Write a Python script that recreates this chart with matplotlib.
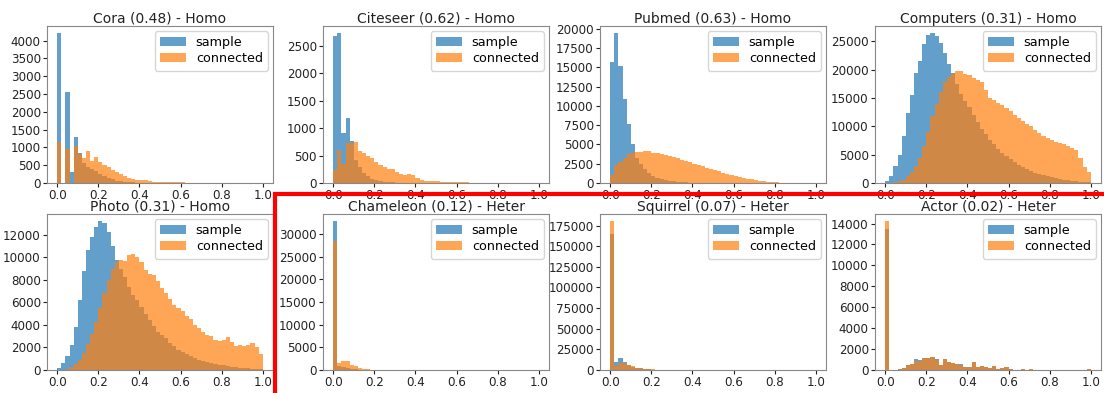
import numpy as np
import matplotlib
matplotlib.use("Agg")
import matplotlib.pyplot as plt
from matplotlib.patches import Rectangle
from matplotlib.ticker import MultipleLocator

# 50 bins on [0, 1]
edges = np.linspace(0, 1, 51)

titles = ["Cora (0.48) - Homo", "Citeseer (0.62) - Homo", "Pubmed (0.63) - Homo",
          "Computers (0.31) - Homo", "Photo (0.31) - Homo", "Chameleon (0.12) - Heter",
          "Squirrel (0.07) - Heter", "Actor (0.02) - Heter"]

cora_sample = [4200, 0, 2550, 300, 1280, 850, 560, 450, 400, 330,
               250, 200, 130, 100, 70, 50, 30, 20, 15, 10,
               10, 8, 6, 5, 4, 3, 3, 2, 2, 2,
               3, 1, 1, 1, 1, 1, 1, 1, 1, 1,
               1, 1, 1, 1, 1, 1, 1, 1, 1, 5]
cora_conn = [1150, 0, 960, 0, 1050, 820, 710, 900, 630, 730,
             590, 500, 450, 360, 310, 240, 200, 150, 110, 95,
             80, 80, 55, 35, 30, 25, 20, 15, 15, 20,
             20, 12, 10, 8, 8, 6, 5, 5, 5, 8,
             4, 3, 3, 3, 3, 3, 2, 2, 2, 10]

citeseer_sample = [2680, 2720, 910, 1180, 760, 420, 300, 180, 120, 70,
                   50, 30, 20, 15, 10, 8, 6, 5, 4, 3,
                   3, 2, 2, 2, 1, 1, 1, 1, 1, 1,
                   1, 1, 1, 1, 1, 0, 0, 0, 0, 0,
                   0, 0, 0, 0, 0, 0, 0, 0, 0, 0]
citeseer_conn = [230, 600, 350, 730, 730, 740, 580, 540, 500, 450,
                 380, 330, 290, 260, 250, 200, 160, 145, 170, 140,
                 100, 60, 45, 35, 30, 35, 25, 20, 25, 20,
                 15, 10, 12, 8, 5, 5, 3, 3, 2, 2,
                 2, 1, 1, 1, 1, 1, 1, 0, 0, 0]

pubmed_sample = [15700, 19400, 15200, 10900, 7700, 5100, 3300, 2500, 1800, 1300,
                 900, 700, 500, 400, 300, 200, 150, 100, 80, 60,
                 50, 40, 30, 20, 15, 10, 8, 6, 5, 4,
                 3, 2, 2, 1, 1, 1, 1, 0, 0, 0,
                 0, 0, 0, 0, 0, 0, 0, 0, 0, 0]
pubmed_conn = [1000, 2300, 2700, 3300, 3700, 3900, 4000, 4050, 4100, 4150,
               3950, 3850, 3750, 3600, 3450, 3350, 3200, 3000, 2850, 2700,
               2500, 2350, 2200, 2000, 1850, 1650, 1500, 1350, 1200, 1050,
               870, 780, 680, 580, 460, 350, 280, 220, 160, 120,
               90, 60, 40, 30, 20, 12, 8, 5, 3, 2]

computers_sample = [300, 1200, 3000, 5000, 8300, 12300, 15500, 19500, 21500, 24500,
                    26200, 26400, 26000, 24800, 23000, 21000, 19500, 17500, 15800, 14500,
                    13500, 12000, 10800, 9600, 8600, 7600, 6800, 6000, 5300, 4700,
                    4200, 3700, 3200, 2800, 2400, 2100, 1800, 1600, 1400, 1200,
                    1000, 850, 700, 600, 500, 400, 320, 250, 180, 120]
computers_conn = [0, 50, 150, 300, 600, 1200, 2000, 3000, 4500, 6500,
                  9000, 11800, 14000, 16000, 17800, 18800, 19300, 19800, 19700, 19300,
                  19000, 18500, 18200, 17800, 16500, 15000, 14600, 14200, 13800, 13300,
                  12800, 12000, 11400, 11000, 10500, 10000, 9400, 8900, 8300, 8000,
                  7600, 7300, 7000, 6800, 6600, 6100, 5800, 4500, 2800, 2000]

photo_sample = [150, 600, 1200, 2200, 3800, 6200, 8800, 10700, 11800, 12700,
                13200, 13100, 12300, 11000, 9800, 9000, 8300, 7400, 6700, 6200,
                5600, 5000, 4400, 3900, 3400, 3100, 2800, 2400, 2100, 1800,
                1600, 1400, 1200, 1050, 900, 780, 680, 600, 520, 450,
                400, 350, 300, 260, 220, 190, 160, 130, 100, 80]
photo_conn = [0, 20, 100, 250, 500, 900, 1500, 2300, 3200, 4300,
              5500, 6800, 8000, 9000, 9600, 9800, 9700, 10200, 10300, 10000,
              9600, 8900, 8500, 8400, 7900, 7300, 6800, 6300, 5800, 5500,
              5200, 4800, 4500, 4000, 3700, 3400, 3100, 3000, 2700, 2600,
              2700, 2900, 2500, 2100, 2200, 2100, 2200, 2400, 2000, 1400]

chameleon_sample = [32800, 900, 700, 500, 300, 180, 100, 60, 30, 20,
                    10, 5, 3, 2, 1, 1, 0, 0, 0, 0,
                    0, 0, 0, 0, 0, 0, 0, 0, 0, 0,
                    0, 0, 0, 0, 0, 0, 0, 0, 0, 0,
                    0, 0, 0, 0, 0, 0, 0, 0, 0, 0]
chameleon_conn = [28500, 1500, 2000, 2000, 1200, 800, 400, 250, 150, 80,
                  40, 20, 10, 5, 3, 2, 1, 0, 0, 0,
                  0, 0, 0, 0, 0, 0, 0, 0, 0, 0,
                  0, 0, 0, 0, 0, 0, 0, 0, 0, 0,
                  0, 0, 0, 0, 0, 0, 0, 0, 0, 0]

squirrel_sample = [165000, 10000, 14000, 10000, 6000, 4000, 3000, 2000, 1500, 1000,
                   600, 400, 300, 200, 100, 50, 20, 10, 5, 0,
                   0, 0, 0, 0, 0, 0, 0, 0, 0, 0,
                   0, 0, 0, 0, 0, 0, 0, 0, 0, 0,
                   0, 0, 0, 0, 0, 0, 0, 0, 0, 0]
squirrel_conn = [180000, 5000, 8000, 8000, 6500, 4500, 3000, 2200, 1500, 1000,
                 700, 400, 250, 150, 80, 40, 20, 10, 5, 0,
                 0, 0, 0, 0, 0, 0, 0, 0, 0, 0,
                 0, 0, 0, 0, 0, 0, 0, 0, 0, 0,
                 0, 0, 0, 0, 0, 0, 0, 0, 0, 0]

actor_sample = [13450, 0, 0, 60, 220, 450, 600, 1020, 920, 1110,
                1180, 1280, 1020, 480, 1050, 800, 670, 600, 540, 290,
                330, 780, 320, 430, 290, 220, 350, 100, 160, 290,
                60, 30, 30, 80, 30, 80, 40, 20, 20, 10,
                10, 10, 10, 10, 10, 10, 10, 10, 10, 100]
actor_conn = [14200, 0, 0, 60, 220, 450, 600, 860, 900, 1100,
              1170, 1240, 1000, 470, 1040, 780, 650, 580, 520, 280,
              320, 720, 300, 380, 280, 210, 340, 90, 150, 280,
              50, 30, 30, 80, 30, 80, 40, 20, 20, 10,
              10, 10, 10, 10, 10, 10, 10, 10, 10, 100]

samples = [cora_sample, citeseer_sample, pubmed_sample, computers_sample,
           photo_sample, chameleon_sample, squirrel_sample, actor_sample]
connected = [cora_conn, citeseer_conn, pubmed_conn, computers_conn,
             photo_conn, chameleon_conn, squirrel_conn, actor_conn]
ysteps = [500, 500, 2500, 5000, 2000, 5000, 25000, 2000]

W, H = 1104, 393
fig = plt.figure(figsize=(W / 100, H / 100), dpi=100)

# axes boxes in pixels
lefts = [47, 323, 600, 875]
aw = 226
rows = [(26, 183), (214, 370)]

for i in range(8):
    r, c = divmod(i, 4)
    top, bot = rows[r]
    ax = fig.add_axes([lefts[c] / W, 1 - bot / H, aw / W, (bot - top) / H])
    ax.hist(edges[:-1], bins=edges, weights=samples[i], alpha=0.7,
            color="tab:blue", label="sample")
    ax.hist(edges[:-1], bins=edges, weights=connected[i], alpha=0.7,
            color="tab:orange", label="connected")
    ax.set_title(titles[i], fontsize=10, pad=1.5, color="#222222")
    ax.set_xticks([0.0, 0.2, 0.4, 0.6, 0.8, 1.0])
    ax.yaxis.set_major_locator(MultipleLocator(ysteps[i]))
    ax.tick_params(labelsize=8.6, colors="#222222", length=3, pad=1.5)
    for s in ax.spines.values():
        s.set_color("#888888")
        s.set_linewidth(0.8)
    ax.legend(loc="upper right", fontsize=9.2, borderaxespad=0.4,
              handlelength=2.0, labelspacing=0.25)

# red frame around the heterophilic panels
fig.patches.append(Rectangle((275 / W, -0.1), 1.0, (H - 194) / H + 0.1,
                             transform=fig.transFigure, fill=False,
                             edgecolor="red", linewidth=3, clip_on=False))

plt.savefig("out.png", dpi=100)
